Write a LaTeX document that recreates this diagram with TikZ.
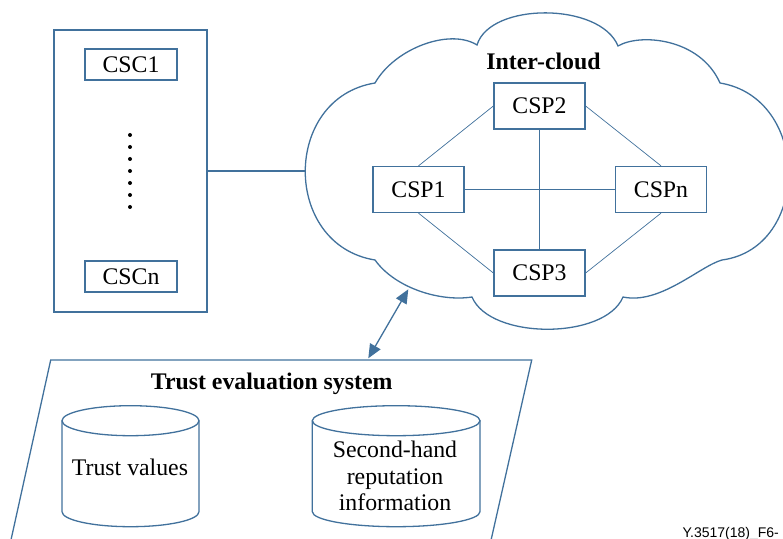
\documentclass[tikz,border=0pt]{standalone}
\usepackage{fontspec}
\setmainfont{Liberation Serif}
\newfontfamily\footfont{Liberation Sans}
\usetikzlibrary{arrows.meta}
\definecolor{lc}{HTML}{41719C}
\begin{document}
\begin{tikzpicture}[x=1pt,y=1pt,
  font=\fontsize{23.8}{26.7}\selectfont,
  outline/.style={draw=lc, line width=1.3pt},
  cspbox/.style={outline, fill=white, minimum width=91pt, minimum height=46pt, inner sep=0pt},
  cscbox/.style={outline, fill=white, minimum width=92pt, minimum height=31pt, inner sep=0pt},
  link/.style={draw=lc, line width=0.7pt},
  dblarrow/.style={outline, >={Triangle[length=14pt,width=12pt]}, <->},
  title/.style={font=\bfseries\fontsize{23.8}{26.7}\selectfont, anchor=base, inner sep=0pt},
  label/.style={anchor=base, inner sep=0pt, align=center}
  ]
\useasboundingbox (0,0) rectangle (783,538);
\clip (0,0) rectangle (783,538);

% left consumer box
\node[outline, minimum width=153pt, minimum height=282pt, inner sep=0pt] (leftbox) at (130.5,367) {};
\node[cscbox] (csc1) at (131,473.5) {CSC1};
\node[cscbox] (cscn) at (131,261.5) {CSCn};
\foreach \yy in {403,391,...,331} \fill (130,\yy) circle (2);

% cloud
\coordinate (cloudL) at (305,367);
\draw[outline] (375,278) .. controls (282,293) and (282,440) .. (375,455)
  .. controls (395,490) and (450,510) .. (477,493)
  .. controls (490,536) and (600,536) .. (618,492)
  .. controls (640,505) and (700,500) .. (720,455)
  .. controls (811,440) and (811,290) .. (722,278)
  .. controls (700,272) and (660,233) .. (623,241)
  .. controls (605,198) and (490,198) .. (472,241)
  .. controls (440,236) and (395,250) .. (375,278) -- cycle;
\draw[outline] (leftbox.east) -- (cloudL);

\node[title] (inter) at (543.5,468) {Inter-cloud};
\node[cspbox] (csp2) at (539.5,432) {CSP2};
\node[cspbox] (csp1) at (418.5,348.5) {CSP1};
\node[cspbox] (cspn) at (661,348.5) {CSPn};
\node[cspbox] (csp3) at (539.5,265) {CSP3};
\draw[link] (csp1.north) -- (csp2.west);
\draw[link] (csp2.east) -- (cspn.north);
\draw[link] (csp1.south) -- (csp3.west);
\draw[link] (cspn.south) -- (csp3.east);
\draw[link] (csp1.east) -- (cspn.west);
\draw[link] (csp2.south) -- (csp3.north);

% trust evaluation system
\draw[outline] (7,-20) -- (50.7,178) -- (531.7,178) -- (487,-20);
\node[title] (tes) at (271.7,148.7) {Trust evaluation system};

\coordinate (arrA) at (368.3,179.7);
\coordinate (arrB) at (408.3,248.7);
\draw[dblarrow] (arrA) -- (arrB);

% cylinders
\draw[outline, fill=white] (62,117.3) -- (62,26.3) arc[start angle=180, end angle=360, x radius=68.5, y radius=15] -- (199,117.3);
\draw[outline] (130.5,117.3) ellipse [x radius=68.5, y radius=15];
\node[label] (tv) at (130,63) {Trust values};

\draw[outline, fill=white] (312.3,117.3) -- (312.3,26.3) arc[start angle=180, end angle=360, x radius=83.85, y radius=15] -- (480,117.3);
\draw[outline] (396.15,117.3) ellipse [x radius=83.85, y radius=15];
\node[label] (sh1) at (395,80.7) {Second-hand};
\node[label] (sh2) at (395,54) {reputation};
\node[label] (sh3) at (395,27.3) {information};

\node[font=\footfont\fontsize{14}{16}\selectfont, anchor=base east, inner sep=0pt] (fig) at (779,0.3) {Y.3517(18)\_F6-};
\end{tikzpicture}
\end{document}
